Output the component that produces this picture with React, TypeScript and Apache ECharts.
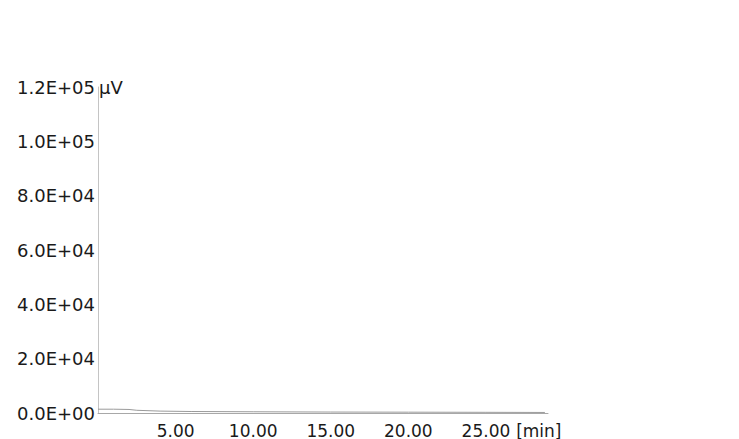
import React, { useEffect, useRef } from "react";
import * as echarts from "echarts";

// Retention time axis (min)
const xMin = 0;
const xMax = 29;
const xInterval = 5;
const xUnit = "[min]";

// Signal axis (µV)
const yTickValues = [0, 20000, 40000, 60000, 80000, 100000, 120000];
const yTickLabels = ["0.0E+00", "2.0E+04", "4.0E+04", "6.0E+04", "8.0E+04", "1.0E+05", "1.2E+05"];
const yUnit = "μV";

// Chromatogram trace (flat baseline)
const traceTimes = [0, 1, 2, 2.5, 4, 6, 10, 15, 20, 25, 28.8];
const traceValues = [1400, 1400, 1300, 1000, 700, 550, 450, 350, 300, 250, 200];

export default function App() {
  const ref = useRef<HTMLDivElement>(null);

  useEffect(() => {
    if (!ref.current) return;
    const chart = echarts.init(ref.current, null, { renderer: "svg" });
    const font = "DejaVu Sans";
    chart.setOption({
      animation: false,
      backgroundColor: "#ffffff",
      grid: { left: 98, right: 191, top: 87, bottom: 26, containLabel: false, outerBoundsMode: "none" },
      xAxis: {
        type: "value",
        min: xMin,
        max: xMax,
        interval: xInterval,
        name: xUnit,
        nameLocation: "end",
        nameGap: -33,
        nameTextStyle: {
          color: "#1a1a1a",
          fontFamily: font,
          fontSize: 17,
          align: "left",
          verticalAlign: "top",
          padding: [9, 0, 0, 0],
        },
        axisLine: { show: true, lineStyle: { color: "#a8a8a8", width: 1 } },
        axisTick: { show: false },
        splitLine: { show: false },
        axisLabel: {
          show: true,
          margin: 9,
          showMinLabel: false,
          showMaxLabel: false,
          color: "#1a1a1a",
          fontFamily: font,
          fontSize: 17,
          formatter: (v: number) => v.toFixed(2),
        },
      },
      yAxis: {
        type: "value",
        min: yTickValues[0],
        max: yTickValues[yTickValues.length - 1],
        interval: 20000,
        axisLine: { show: true, lineStyle: { color: "#c4c4c4", width: 1 } },
        axisTick: { show: false },
        splitLine: { show: false },
        axisLabel: {
          show: true,
          margin: 3,
          color: "#1a1a1a",
          fontFamily: font,
          fontSize: 18,
          formatter: (v: number) => {
            const i = yTickValues.indexOf(v);
            return i >= 0 ? yTickLabels[i] : "";
          },
        },
      },
      series: [
        {
          type: "line",
          data: traceTimes.map((t, i) => [t, traceValues[i]]),
          showSymbol: false,
          smooth: false,
          lineStyle: { color: "#9a9a9a", width: 1 },
        },
      ],
    });
    const top = chart.convertToPixel({ gridIndex: 0 }, [xMin, yTickValues[yTickValues.length - 1]]) as number[];
    chart.setOption({
      graphic: [
        {
          type: "text",
          x: top[0] + 1,
          y: top[1],
          style: {
            text: yUnit,
            fill: "#1a1a1a",
            font: `18px "${font}"`,
            align: "left",
            verticalAlign: "middle",
          },
        },
      ],
    });
    return () => chart.dispose();
  }, []);

  return (
    <div
      ref={ref}
      style={{ position: "fixed", left: 0, top: 0, width: 739, height: 439, background: "#fff" }}
    />
  );
}
